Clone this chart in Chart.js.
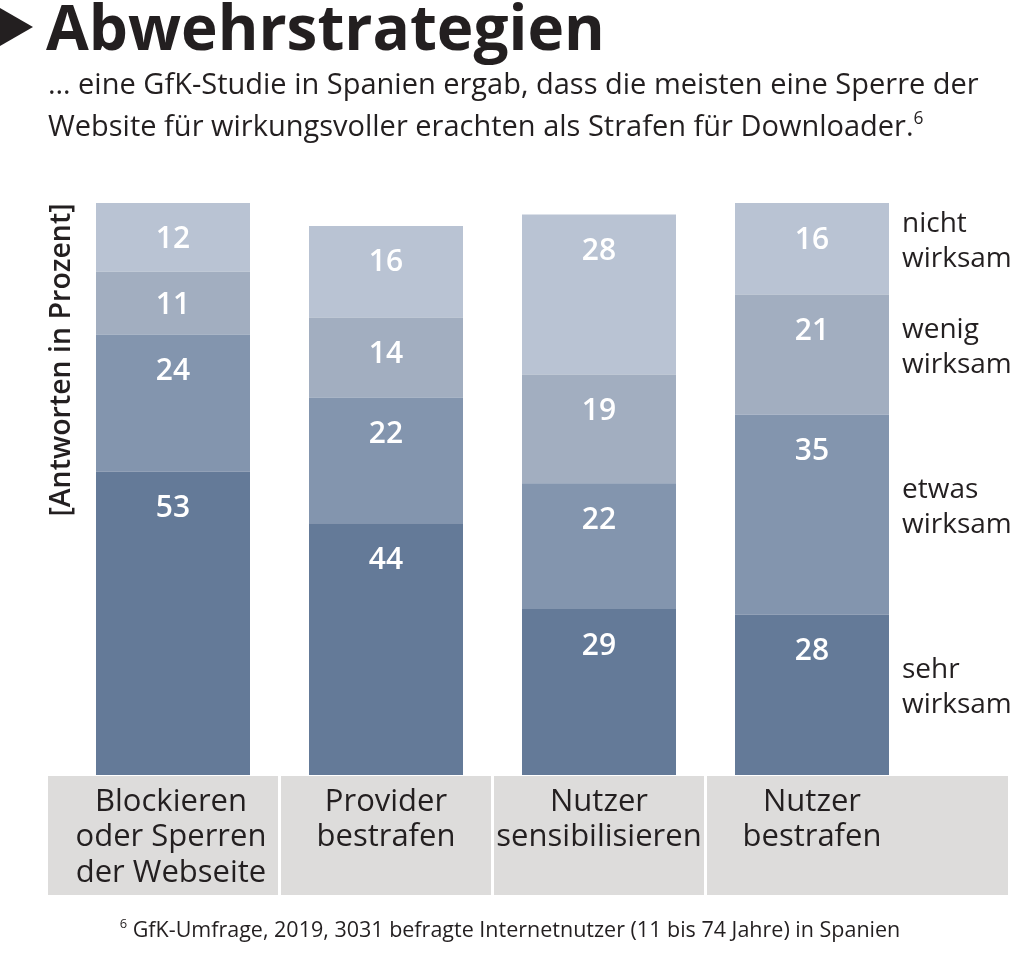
<!DOCTYPE html>
<html lang="de">
<head>
<meta charset="utf-8">
<title>Abwehrstrategien</title>
<script src="https://cdn.jsdelivr.net/npm/chart.js@4/dist/chart.umd.min.js"></script>
<style>
    html, body { margin: 0; padding: 0; background: #fff; }
    body { width: 1024px; height: 958px; position: relative; overflow: hidden; font-family: 'Open Sans', sans-serif; color: #231f20; }
    #chart { position: absolute; left: 0; top: 0; }
    .tri { position: absolute; left: 0; top: 8px; width: 0; height: 0; border-top: 19px solid transparent; border-bottom: 19px solid transparent; border-left: 33px solid #231f20; }
    h1 { position: absolute; left: 46px; top: -16px; margin: 0; font-size: 62px; font-weight: 700; letter-spacing: 0; }
    .sub { position: absolute; left: 48px; top: 62px; margin: 0; font-size: 29px; line-height: 42px; }
    .foot { position: absolute; left: 0; width: 1020px; top: 914px; text-align: center; font-size: 21.5px; }
    sup { font-size: 0.6em; vertical-align: 0.7em; line-height: 0; }
</style>
</head>
<body>
<canvas id="chart" width="1024" height="958"></canvas>
<div class="tri"></div>
<h1>Abwehrstrategien</h1>
<p class="sub">… eine GfK-Studie in Spanien ergab, dass die meisten eine Sperre der<br>Website für wirkungsvoller erachten als Strafen für Downloader.<sup>6</sup></p>
<div class="foot"><sup>6</sup> GfK-Umfrage, 2019, 3031 befragte Internetnutzer (11 bis 74 Jahre) in Spanien</div>
<script>
document.addEventListener('DOMContentLoaded', () => {
    // Data
    const categories = [
        ['Blockieren', 'oder Sperren', 'der Webseite'],
        ['Provider', 'bestrafen'],
        ['Nutzer', 'sensibilisieren'],
        ['Nutzer', 'bestrafen'],
    ];
    const seriesNames = [['sehr', 'wirksam'], ['etwas', 'wirksam'], ['wenig', 'wirksam'], ['nicht', 'wirksam']];
    const sehrWirksam = [53, 44, 29, 28];
    const etwasWirksam = [24, 22, 22, 35];
    const wenigWirksam = [11, 14, 19, 21];
    const nichtWirksam = [12, 16, 28, 16];
    const colors = ['#647a98', '#8395ae', '#a2aec0', '#b9c3d3'];
    const yTitle = '[Antworten in Prozent]';

    const font = "'Open Sans', sans-serif";
    const ink = '#231f20';

    // grey label cells under the bars, value labels, series labels, y title
    const decorations = {
        id: 'decorations',
        beforeDatasetsDraw(chart) {
            const { ctx, chartArea, scales: { x } } = chart;
            const half = (x.getPixelForValue(1) - x.getPixelForValue(0)) / 2;
            ctx.save();
            ctx.fillStyle = '#dddcdb';
            categories.forEach((lines, i) => {
                const c = x.getPixelForValue(i);
                let l = c - half + 1.5, r = c + half - 1.5;
                if (i === 0) l = 48;
                if (i === categories.length - 1) r = 1008;
                ctx.fillRect(l, chartArea.bottom + 1, r - l, 119);
            });
            ctx.fillStyle = ink;
            ctx.font = `31px ${font}`;
            ctx.textAlign = 'center';
            ctx.textBaseline = 'middle';
            categories.forEach((lines, i) => {
                const c = x.getPixelForValue(i) - (i === 0 ? 2 : 0);
                lines.forEach((t, j) => ctx.fillText(t, c, chartArea.bottom + 27 + j * 35.5));
            });
            // y title
            ctx.translate(62, 360);
            ctx.rotate(-Math.PI / 2);
            ctx.font = `600 28.5px ${font}`;
            ctx.fillText(yTitle, 0, 0);
            ctx.restore();
        },
        afterDatasetsDraw(chart) {
            const { ctx } = chart;
            ctx.save();
            ctx.textAlign = 'center';
            ctx.textBaseline = 'middle';
            chart.data.datasets.forEach((ds, di) => {
                const meta = chart.getDatasetMeta(di);
                meta.data.forEach((el, i) => {
                    const y = Math.min(el.y + 35, (el.y + el.base) / 2) + 2;
                    ctx.fillStyle = '#ffffff';
                    ctx.font = `600 30px ${font}`;
                    ctx.fillText(String(ds.data[i]), el.x, y);
                });
                // series label right of the last bar
                const last = meta.data[meta.data.length - 1];
                const mid = (last.y + last.base) / 2 - 8;
                ctx.fillStyle = ink;
                ctx.font = `28px ${font}`;
                ctx.textAlign = 'left';
                seriesNames[di].forEach((t, j) => ctx.fillText(t, last.x + last.width / 2 + 13, mid - 17 + j * 35));
                ctx.textAlign = 'center';
            });
            ctx.restore();
        },
    };

    const ctx = document.getElementById('chart').getContext('2d');
    new Chart(ctx, {
        type: 'bar',
        data: {
            labels: categories,
            datasets: [sehrWirksam, etwasWirksam, wenigWirksam, nichtWirksam].map((d, i) => ({
                label: seriesNames[i].join(' '),
                data: d,
                backgroundColor: colors[i],
                borderWidth: 0,
                barPercentage: 1,
                categoryPercentage: 154 / 213,
            })),
        },
        options: {
            responsive: false,
            animation: false,
            devicePixelRatio: 1,
            layout: { padding: { left: 66.5, right: 105.5, top: 203, bottom: 183 } },
            scales: {
                x: { stacked: true, display: false },
                y: { stacked: true, display: false, min: 0, max: 100 },
            },
            plugins: {
                legend: { display: false },
                tooltip: { enabled: false },
            },
        },
        plugins: [decorations],
    });
});
</script>
</body>
</html>
